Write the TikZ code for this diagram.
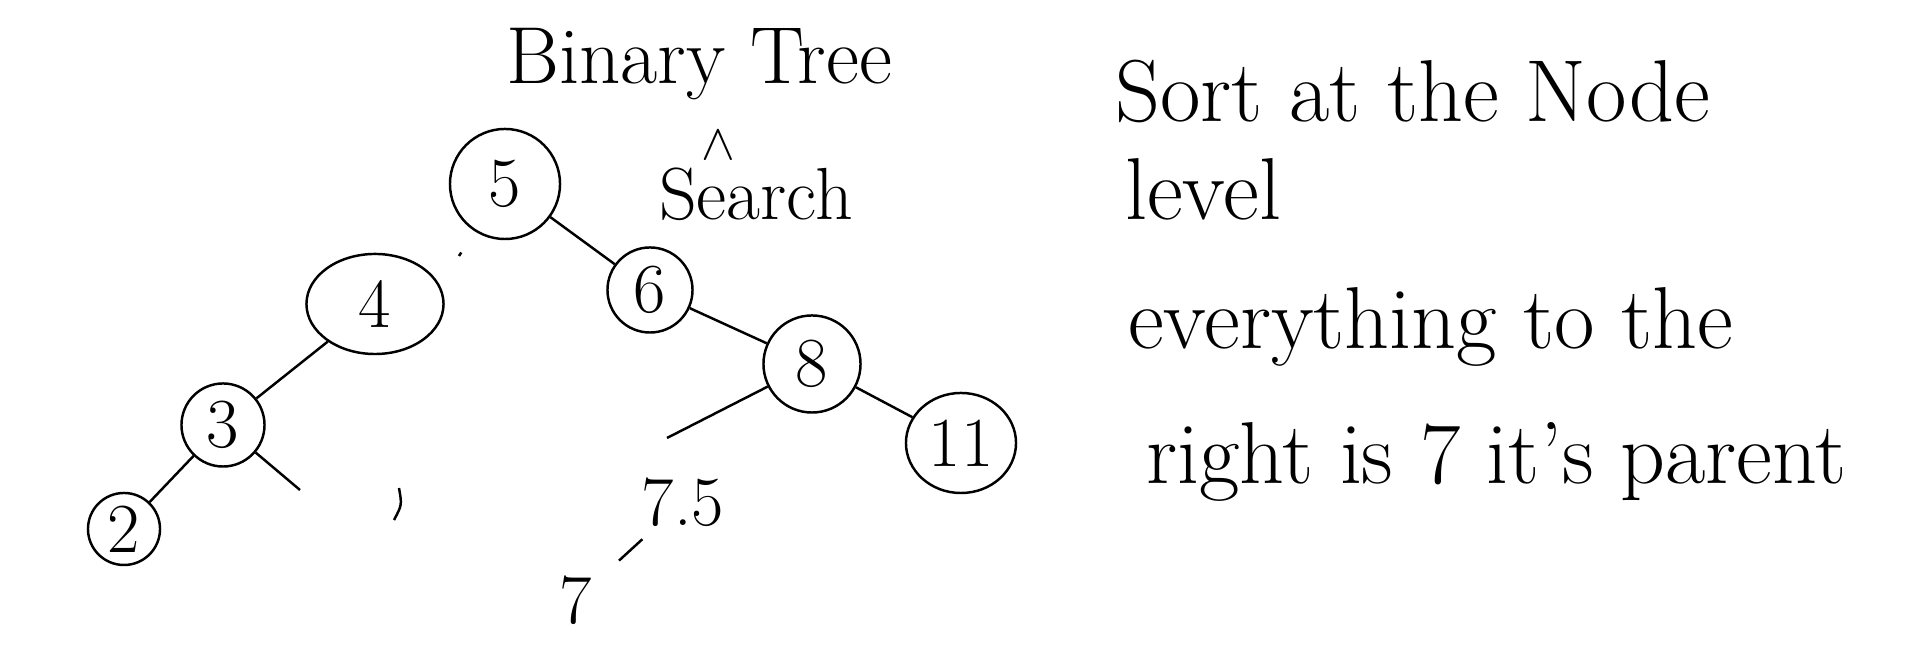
\documentclass[tikz,border=0pt]{standalone}
\usepackage{tikz}
\usetikzlibrary{shapes,positioning,calc}

\begin{document}
\begin{tikzpicture}[x=0.01cm, y=-0.01cm, line width=0.7pt,
    treenode/.style={draw, circle, inner sep=0pt, font=\fontsize{20}{24}\selectfont},
    label/.style={inner sep=1pt, font=\fontsize{20}{24}\selectfont},
    note/.style={anchor=base west, inner sep=0pt, font=\fontsize{25}{30}\selectfont}]
    \useasboundingbox (0,0) rectangle (1920,659);

    % Title
    \node[note, font=\fontsize{23}{28}\selectfont] (title) at (505,84) {Binary Tree};
    \node[label, inner sep=0pt, font=\fontsize{15}{18}\selectfont] (caret) at (718,145) {$\wedge$};
    \node[note, font=\fontsize{21}{25}\selectfont] (search) at (658,220) {Search};

    % Tree nodes
    \node[treenode, minimum size=1.1cm] (n5) at (505,184) {5};
    \node[treenode, ellipse, minimum width=1.37cm, minimum height=1.0cm] (n4) at (375,304) {4};
    \node[treenode, minimum size=0.85cm] (n6) at (650,290) {6};
    \node[treenode, minimum size=0.83cm] (n3) at (223,425) {3};
    \node[treenode, minimum size=0.72cm] (n2) at (124,529) {2};
    \node[treenode, minimum size=0.97cm] (n8) at (812,364) {8};
    \node[treenode, ellipse, minimum width=1.1cm, minimum height=1.0cm] (n11) at (961,443) {11};
    \node[label] (n75) at (683,502) {7.5};
    \node[label] (n7) at (576,600) {7};

    % Loose ends
    \coordinate (e54) at (459,256);
    \coordinate (e3) at (300,490);
    \coordinate (e8) at (667,438);

    % Edges
    \draw[shorten <=0.25cm] (n5) -- (e54);
    \draw (n5) -- (n6);
    \draw (n4) -- (n3);
    \draw (n3) -- (n2);
    \draw (n3) -- (e3);
    \draw (n6) -- (n8);
    \draw (n8) -- (e8);
    \draw[shorten <=0.12cm, shorten >=0.3cm] (n75) -- (n7);
    \draw (n8) -- (n11);

    % Stray stroke
    \draw (399,488) .. controls (402,505) .. (394,520);

    % Notes on the right
    \node[note] (sort) at (1114,122) {Sort at the Node};
    \node[note] (level) at (1124,220) {level};
    \node[note] (every) at (1127,349) {everything to the};
    \node[note] (right) at (1145,484) {right is 7 it's parent};
\end{tikzpicture}
\end{document}
